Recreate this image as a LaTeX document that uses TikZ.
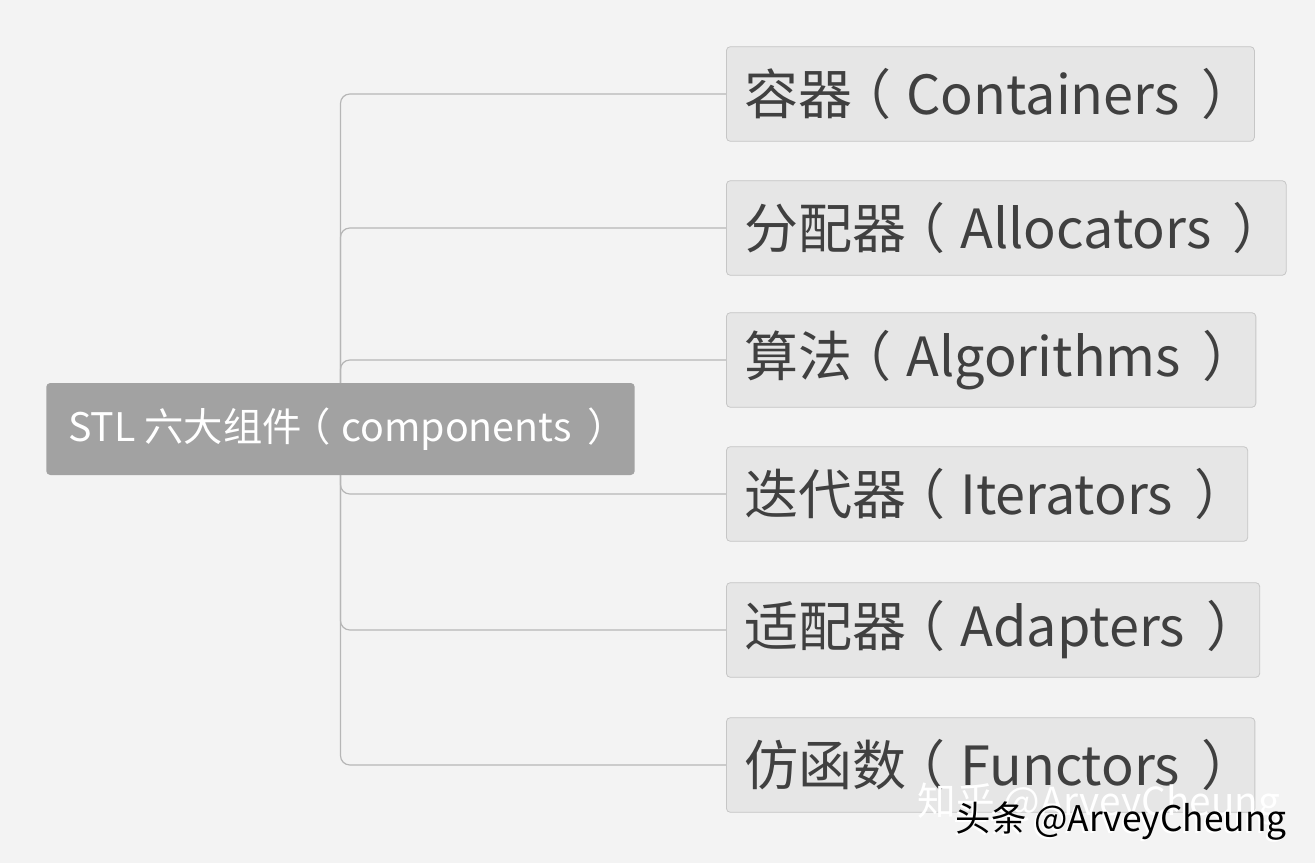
\documentclass[tikz,border=0pt]{standalone}
\usepackage{fontspec}
\setmainfont{Noto Sans CJK SC}
\usepackage{xcolor}
\usetikzlibrary{positioning}
\definecolor{canvas}{HTML}{F3F3F3}
\definecolor{rootgray}{HTML}{A2A2A2}
\definecolor{leaffill}{HTML}{E6E6E6}
\definecolor{leafline}{HTML}{C6C6C6}
\definecolor{leaftext}{HTML}{404040}
\definecolor{linkgray}{HTML}{B6B6B6}
\pgfdeclarelayer{background}
\pgfdeclarelayer{links}
\pgfsetlayers{background,links,main}
% full-width parens, spaced the way the mind map sets them
\newcommand{\openpar}{\kern-.27em（\kern.27em}
\newcommand{\closepar}{\kern.4em）\kern-.35em}

\begin{document}
\begin{tikzpicture}[x=0.75pt, y=-0.75pt]
	\tikzset{rootbox/.style={fill=rootgray, text=white, rounded corners=3pt, minimum height=69pt, inner xsep=16.5pt, font=\fontsize{29.5pt}{34pt}\selectfont}}
	\tikzset{leafbox/.style={draw=leafline, line width=0.6pt, fill=leaffill, text=leaftext, rounded corners=3pt, minimum height=71pt, inner xsep=13.5pt, anchor=west, font=\fontsize{40.5pt}{46pt}\selectfont}}
	\tikzset{link/.style={draw=linkgray, line width=0.9pt, rounded corners=7pt}}
	% \tikzset{mark/.style={text=white}}

	% Canvas
	\useasboundingbox (0,0) rectangle (1315,863);
	\begin{pgfonlayer}{background}
		\fill [canvas] (0,0) rectangle (1315,863);
	\end{pgfonlayer}

	% Root
	\node (root) [rootbox, anchor=west] at (46,429) {STL 六大组件\openpar components\closepar};

	% Components
	\node (cont) [leafbox] at (726,94) {容器\openpar Containers\closepar};
	\node (alloc) [leafbox] at (726,228) {分配器\openpar Allocators\closepar};
	\node (algo) [leafbox] at (726,360) {算法\openpar Algorithms\closepar};
	\node (iter) [leafbox] at (726,494) {迭代器\openpar Iterators\closepar};
	\node (adapt) [leafbox] at (726,630) {适配器\openpar Adapters\closepar};
	\node (func) [leafbox] at (726,765) {仿函数\openpar Functors\closepar};

	% Branches
	\begin{pgfonlayer}{links}
		\draw [link] (root.center) |- (cont.west);
		\draw [link] (root.center) |- (alloc.west);
		\draw [link] (root.center) |- (algo.west);
		\draw [link] (root.center) |- (iter.west);
		\draw [link] (root.center) |- (adapt.west);
		\draw [link] (root.center) |- (func.west);
	\end{pgfonlayer}

	% Watermarks
	\node (zhihu) [anchor=base west, text=white, font=\fontsize{29pt}{34pt}\selectfont] at (913,815) {知乎 @ArveyCheung};
	\node (toutiaoshadow) [anchor=base west, text=white, font=\fontsize{26.5pt}{32pt}\selectfont] at (949,833) {头条 @ArveyCheung};
	\node (toutiao) [anchor=base west, text=black, font=\fontsize{26.5pt}{32pt}\selectfont] at (951,831) {头条 @ArveyCheung};

\end{tikzpicture}
\end{document}
